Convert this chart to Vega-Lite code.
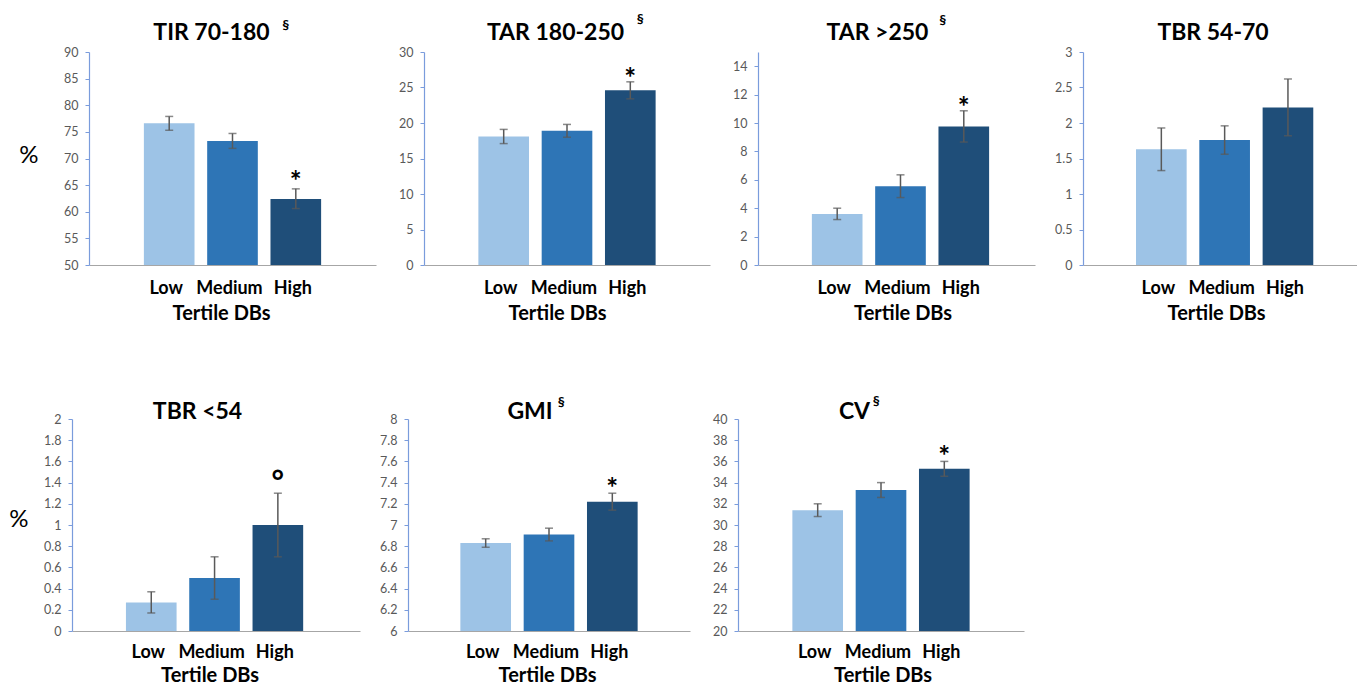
{
  "$schema": "https://vega.github.io/schema/vega-lite/v6.json",
  "background": "white",
  "padding": {"left": 8, "top": 13, "right": 0, "bottom": 0},
  "data": {"values": [
    {"p": "TIR", "t": "Low", "m": 76.6, "lo": 75.3, "hi": 77.9, "sig": "", "sup": ""},
    {"p": "TIR", "t": "Medium", "m": 73.3, "lo": 71.9, "hi": 74.7, "sig": "", "sup": ""},
    {"p": "TIR", "t": "High", "m": 62.4, "lo": 60.6, "hi": 64.3, "sig": "*", "sup": "§"},
    {"p": "TAR1", "t": "Low", "m": 18.1, "lo": 17.1, "hi": 19.1, "sig": "", "sup": ""},
    {"p": "TAR1", "t": "Medium", "m": 18.9, "lo": 18.0, "hi": 19.8, "sig": "", "sup": ""},
    {"p": "TAR1", "t": "High", "m": 24.6, "lo": 23.4, "hi": 25.8, "sig": "*", "sup": "§"},
    {"p": "TAR2", "t": "Low", "m": 3.6, "lo": 3.2, "hi": 4.0, "sig": "", "sup": ""},
    {"p": "TAR2", "t": "Medium", "m": 5.55, "lo": 4.75, "hi": 6.35, "sig": "", "sup": ""},
    {"p": "TAR2", "t": "High", "m": 9.76, "lo": 8.66, "hi": 10.86, "sig": "*", "sup": "§"},
    {"p": "TBR1", "t": "Low", "m": 1.63, "lo": 1.33, "hi": 1.93, "sig": "", "sup": ""},
    {"p": "TBR1", "t": "Medium", "m": 1.76, "lo": 1.56, "hi": 1.96, "sig": "", "sup": ""},
    {"p": "TBR1", "t": "High", "m": 2.22, "lo": 1.82, "hi": 2.62, "sig": "", "sup": ""},
    {"p": "TBR2", "t": "Low", "m": 0.27, "lo": 0.17, "hi": 0.37, "sig": "", "sup": ""},
    {"p": "TBR2", "t": "Medium", "m": 0.5, "lo": 0.3, "hi": 0.7, "sig": "", "sup": ""},
    {"p": "TBR2", "t": "High", "m": 1.0, "lo": 0.7, "hi": 1.3, "sig": "°", "sup": ""},
    {"p": "GMI", "t": "Low", "m": 6.83, "lo": 6.79, "hi": 6.87, "sig": "", "sup": ""},
    {"p": "GMI", "t": "Medium", "m": 6.91, "lo": 6.85, "hi": 6.97, "sig": "", "sup": ""},
    {"p": "GMI", "t": "High", "m": 7.22, "lo": 7.14, "hi": 7.30, "sig": "*", "sup": "§"},
    {"p": "CV", "t": "Low", "m": 31.4, "lo": 30.8, "hi": 32.0, "sig": "", "sup": ""},
    {"p": "CV", "t": "Medium", "m": 33.3, "lo": 32.6, "hi": 34.0, "sig": "", "sup": ""},
    {"p": "CV", "t": "High", "m": 35.3, "lo": 34.6, "hi": 36.0, "sig": "*", "sup": "§"}
  ]},
  "spacing": 72,
  "vconcat": [
    {
      "bounds": "flush",
      "spacing": 48,
      "hconcat": [
        {"width": 18, "height": 213, "data": {"values": []}, "mark": {"type": "point", "opacity": 0}, "encoding": {}},
        {
          "width": 287, "height": 213,
          "title": {"text": "TIR 70-180", "dx": -21, "offset": -26},
          "transform": [{"filter": "datum.p === 'TIR'"}],
          "encoding": {"x": {"field": "t", "type": "nominal", "sort": ["Low", "Medium", "High"],
            "scale": {"paddingInner": 0.2, "paddingOuter": 0.867},
            "axis": {"title": "Tertile DBs", "titleX": 132, "titleY": 54, "labelPadding": 28}}},
          "layer": [
            {"mark": {"type": "bar"}, "encoding": {
              "y": {"field": "m", "type": "quantitative", "scale": {"domain": [50, 90], "zero": false, "nice": false},
                "axis": {"values": [50, 55, 60, 65, 70, 75, 80, 85, 90], "tickCount": 50, "labelOverlap": false, "format": "~g", "title": "%", "titleAngle": 0, "titleAlign": "right", "titleBaseline": "middle", "titleX": -51, "titleY": 103, "titleFontSize": 24, "titleFontWeight": "normal", "titleColor": "#000000", "titleFont": "Lato"}},
              "y2": {"datum": 50},
              "color": {"field": "t", "type": "nominal", "scale": {"domain": ["Low", "Medium", "High"], "range": ["#9DC3E6", "#2E75B6", "#1F4E79"]}, "legend": null}}},
            {"mark": {"type": "rule", "color": "#595959", "strokeWidth": 1.5}, "encoding": {"y": {"field": "lo", "type": "quantitative"}, "y2": {"field": "hi"}}},
            {"mark": {"type": "tick", "color": "#595959", "size": 8, "thickness": 1.5}, "encoding": {"y": {"field": "lo", "type": "quantitative"}}},
            {"mark": {"type": "tick", "color": "#595959", "size": 8, "thickness": 1.5}, "encoding": {"y": {"field": "hi", "type": "quantitative"}}},
            {"transform": [{"filter": "datum.sig"}], "mark": {"type": "text", "fontSize": 28, "fontWeight": "bold", "baseline": "alphabetic", "dy": 2}, "encoding": {"y": {"field": "hi", "type": "quantitative"}, "text": {"field": "sig"}}},
            {"transform": [{"filter": "datum.sup"}], "mark": {"type": "text", "fontSize": 14, "fontWeight": "bold", "baseline": "middle", "dx": -10, "dy": -26}, "encoding": {"y": {"datum": 90, "type": "quantitative"}, "text": {"field": "sup"}}}
          ]
        },
        {
          "width": 286, "height": 213,
          "title": {"text": "TAR 180-250", "dx": -11.5, "offset": -32},
          "transform": [{"filter": "datum.p === 'TAR1'"}],
          "encoding": {"x": {"field": "t", "type": "nominal", "sort": ["Low", "Medium", "High"],
            "scale": {"paddingInner": 0.2, "paddingOuter": 0.859},
            "axis": {"title": "Tertile DBs", "titleX": 133, "titleY": 54, "labelPadding": 28}}},
          "layer": [
            {"mark": {"type": "bar"}, "encoding": {
              "y": {"field": "m", "type": "quantitative", "scale": {"domain": [0, 30], "zero": false, "nice": false},
                "axis": {"values": [0, 5, 10, 15, 20, 25, 30], "tickCount": 50, "labelOverlap": false, "format": "~g", "title": null}},
              "y2": {"datum": 0},
              "color": {"field": "t", "type": "nominal", "scale": {"domain": ["Low", "Medium", "High"], "range": ["#9DC3E6", "#2E75B6", "#1F4E79"]}, "legend": null}}},
            {"mark": {"type": "rule", "color": "#595959", "strokeWidth": 1.5}, "encoding": {"y": {"field": "lo", "type": "quantitative"}, "y2": {"field": "hi"}}},
            {"mark": {"type": "tick", "color": "#595959", "size": 8, "thickness": 1.5}, "encoding": {"y": {"field": "lo", "type": "quantitative"}}},
            {"mark": {"type": "tick", "color": "#595959", "size": 8, "thickness": 1.5}, "encoding": {"y": {"field": "hi", "type": "quantitative"}}},
            {"transform": [{"filter": "datum.sig"}], "mark": {"type": "text", "fontSize": 28, "fontWeight": "bold", "baseline": "alphabetic", "dy": 6}, "encoding": {"y": {"field": "hi", "type": "quantitative"}, "text": {"field": "sig"}}},
            {"transform": [{"filter": "datum.sup"}], "mark": {"type": "text", "fontSize": 14, "fontWeight": "bold", "baseline": "middle", "dx": 10, "dy": -32}, "encoding": {"y": {"datum": 30, "type": "quantitative"}, "text": {"field": "sup"}}}
          ]
        },
        {
          "width": 277, "height": 213,
          "title": {"text": "TAR >250", "dx": -19, "offset": -31},
          "transform": [{"filter": "datum.p === 'TAR2'"}],
          "encoding": {"x": {"field": "t", "type": "nominal", "sort": ["Low", "Medium", "High"],
            "scale": {"paddingInner": 0.2, "paddingOuter": 0.788, "align": 0.54},
            "axis": {"title": "Tertile DBs", "titleX": 144.5, "titleY": 54, "labelPadding": 28}}},
          "layer": [
            {"mark": {"type": "bar"}, "encoding": {
              "y": {"field": "m", "type": "quantitative", "scale": {"domain": [0, 15], "zero": false, "nice": false},
                "axis": {"values": [0, 2, 4, 6, 8, 10, 12, 14], "tickCount": 50, "labelOverlap": false, "format": "~g", "title": null}},
              "y2": {"datum": 0},
              "color": {"field": "t", "type": "nominal", "scale": {"domain": ["Low", "Medium", "High"], "range": ["#9DC3E6", "#2E75B6", "#1F4E79"]}, "legend": null}}},
            {"mark": {"type": "rule", "color": "#595959", "strokeWidth": 1.5}, "encoding": {"y": {"field": "lo", "type": "quantitative"}, "y2": {"field": "hi"}}},
            {"mark": {"type": "tick", "color": "#595959", "size": 8, "thickness": 1.5}, "encoding": {"y": {"field": "lo", "type": "quantitative"}}},
            {"mark": {"type": "tick", "color": "#595959", "size": 8, "thickness": 1.5}, "encoding": {"y": {"field": "hi", "type": "quantitative"}}},
            {"transform": [{"filter": "datum.sig"}], "mark": {"type": "text", "fontSize": 28, "fontWeight": "bold", "baseline": "alphabetic", "dy": 6}, "encoding": {"y": {"field": "hi", "type": "quantitative"}, "text": {"field": "sig"}}},
            {"transform": [{"filter": "datum.sup"}], "mark": {"type": "text", "fontSize": 14, "fontWeight": "bold", "baseline": "middle", "dx": -21, "dy": -31}, "encoding": {"y": {"datum": 15, "type": "quantitative"}, "text": {"field": "sup"}}}
          ]
        },
        {
          "width": 274, "height": 213,
          "title": {"text": "TBR 54-70", "dx": -7, "offset": 1},
          "transform": [{"filter": "datum.p === 'TBR1'"}],
          "encoding": {"x": {"field": "t", "type": "nominal", "sort": ["Low", "Medium", "High"],
            "scale": {"paddingInner": 0.2, "paddingOuter": 0.764, "align": 0.548},
            "axis": {"title": "Tertile DBs", "titleX": 133, "titleY": 54, "labelPadding": 28}}},
          "layer": [
            {"mark": {"type": "bar"}, "encoding": {
              "y": {"field": "m", "type": "quantitative", "scale": {"domain": [0, 3], "zero": false, "nice": false},
                "axis": {"values": [0, 0.5, 1, 1.5, 2, 2.5, 3], "tickCount": 50, "labelOverlap": false, "format": "~g", "title": null}},
              "y2": {"datum": 0},
              "color": {"field": "t", "type": "nominal", "scale": {"domain": ["Low", "Medium", "High"], "range": ["#9DC3E6", "#2E75B6", "#1F4E79"]}, "legend": null}}},
            {"mark": {"type": "rule", "color": "#595959", "strokeWidth": 1.5}, "encoding": {"y": {"field": "lo", "type": "quantitative"}, "y2": {"field": "hi"}}},
            {"mark": {"type": "tick", "color": "#595959", "size": 8, "thickness": 1.5}, "encoding": {"y": {"field": "lo", "type": "quantitative"}}},
            {"mark": {"type": "tick", "color": "#595959", "size": 8, "thickness": 1.5}, "encoding": {"y": {"field": "hi", "type": "quantitative"}}}
          ]
        }
      ]
    },
    {
      "bounds": "flush",
      "spacing": 48,
      "hconcat": [
        {"width": 1, "height": 212, "data": {"values": []}, "mark": {"type": "point", "opacity": 0}, "encoding": {}},
        {
          "width": 288, "height": 212,
          "title": {"text": "TBR <54", "dx": -18.5, "offset": -11},
          "transform": [{"filter": "datum.p === 'TBR2'"}],
          "encoding": {"x": {"field": "t", "type": "nominal", "sort": ["Low", "Medium", "High"],
            "scale": {"paddingInner": 0.2, "paddingOuter": 0.875, "align": 0.487},
            "axis": {"title": "Tertile DBs", "titleX": 137.5, "titleY": 50, "labelPadding": 26}}},
          "layer": [
            {"mark": {"type": "bar"}, "encoding": {
              "y": {"field": "m", "type": "quantitative", "scale": {"domain": [0, 2], "zero": false, "nice": false},
                "axis": {"values": [0, 0.2, 0.4, 0.6, 0.8, 1, 1.2, 1.4, 1.6, 1.8, 2], "tickCount": 50, "labelOverlap": false, "format": "~g", "title": "%", "titleAngle": 0, "titleAlign": "right", "titleBaseline": "middle", "titleX": -44, "titleY": 100.5, "titleFontSize": 24, "titleFontWeight": "normal", "titleColor": "#000000", "titleFont": "Lato"}},
              "y2": {"datum": 0},
              "color": {"field": "t", "type": "nominal", "scale": {"domain": ["Low", "Medium", "High"], "range": ["#9DC3E6", "#2E75B6", "#1F4E79"]}, "legend": null}}},
            {"mark": {"type": "rule", "color": "#595959", "strokeWidth": 1.5}, "encoding": {"y": {"field": "lo", "type": "quantitative"}, "y2": {"field": "hi"}}},
            {"mark": {"type": "tick", "color": "#595959", "size": 8, "thickness": 1.5}, "encoding": {"y": {"field": "lo", "type": "quantitative"}}},
            {"mark": {"type": "tick", "color": "#595959", "size": 8, "thickness": 1.5}, "encoding": {"y": {"field": "hi", "type": "quantitative"}}},
            {"transform": [{"filter": "datum.sig"}], "mark": {"type": "text", "fontSize": 30, "fontWeight": "bold", "baseline": "alphabetic", "dy": -1}, "encoding": {"y": {"field": "hi", "type": "quantitative"}, "text": {"field": "sig"}}}
          ]
        },
        {
          "width": 282, "height": 212,
          "title": {"text": "GMI", "dx": -19, "offset": -28},
          "transform": [{"filter": "datum.p === 'GMI'"}],
          "encoding": {"x": {"field": "t", "type": "nominal", "sort": ["Low", "Medium", "High"],
            "scale": {"paddingInner": 0.2, "paddingOuter": 0.827},
            "axis": {"title": "Tertile DBs", "titleX": 139, "titleY": 50, "labelPadding": 26}}},
          "layer": [
            {"mark": {"type": "bar"}, "encoding": {
              "y": {"field": "m", "type": "quantitative", "scale": {"domain": [6, 8], "zero": false, "nice": false},
                "axis": {"values": [6, 6.2, 6.4, 6.6, 6.8, 7, 7.2, 7.4, 7.6, 7.8, 8], "tickCount": 50, "labelOverlap": false, "format": "~g", "title": null}},
              "y2": {"datum": 6},
              "color": {"field": "t", "type": "nominal", "scale": {"domain": ["Low", "Medium", "High"], "range": ["#9DC3E6", "#2E75B6", "#1F4E79"]}, "legend": null}}},
            {"mark": {"type": "rule", "color": "#595959", "strokeWidth": 1.5}, "encoding": {"y": {"field": "lo", "type": "quantitative"}, "y2": {"field": "hi"}}},
            {"mark": {"type": "tick", "color": "#595959", "size": 8, "thickness": 1.5}, "encoding": {"y": {"field": "lo", "type": "quantitative"}}},
            {"mark": {"type": "tick", "color": "#595959", "size": 8, "thickness": 1.5}, "encoding": {"y": {"field": "hi", "type": "quantitative"}}},
            {"transform": [{"filter": "datum.sig"}], "mark": {"type": "text", "fontSize": 28, "fontWeight": "bold", "baseline": "alphabetic", "dy": 5}, "encoding": {"y": {"field": "hi", "type": "quantitative"}, "text": {"field": "sig"}}},
            {"transform": [{"filter": "datum.sup"}], "mark": {"type": "text", "fontSize": 14, "fontWeight": "bold", "baseline": "middle", "dx": -51, "dy": -16}, "encoding": {"y": {"datum": 8, "type": "quantitative"}, "text": {"field": "sup"}}}
          ]
        },
        {
          "width": 286, "height": 212,
          "title": {"text": "CV", "dx": -26.5, "offset": -29},
          "transform": [{"filter": "datum.p === 'CV'"}],
          "encoding": {"x": {"field": "t", "type": "nominal", "sort": ["Low", "Medium", "High"],
            "scale": {"paddingInner": 0.2, "paddingOuter": 0.859},
            "axis": {"title": "Tertile DBs", "titleX": 144.5, "titleY": 50, "labelPadding": 26}}},
          "layer": [
            {"mark": {"type": "bar"}, "encoding": {
              "y": {"field": "m", "type": "quantitative", "scale": {"domain": [20, 40], "zero": false, "nice": false},
                "axis": {"values": [20, 22, 24, 26, 28, 30, 32, 34, 36, 38, 40], "tickCount": 50, "labelOverlap": false, "format": "~g", "title": null}},
              "y2": {"datum": 20},
              "color": {"field": "t", "type": "nominal", "scale": {"domain": ["Low", "Medium", "High"], "range": ["#9DC3E6", "#2E75B6", "#1F4E79"]}, "legend": null}}},
            {"mark": {"type": "rule", "color": "#595959", "strokeWidth": 1.5}, "encoding": {"y": {"field": "lo", "type": "quantitative"}, "y2": {"field": "hi"}}},
            {"mark": {"type": "tick", "color": "#595959", "size": 8, "thickness": 1.5}, "encoding": {"y": {"field": "lo", "type": "quantitative"}}},
            {"mark": {"type": "tick", "color": "#595959", "size": 8, "thickness": 1.5}, "encoding": {"y": {"field": "hi", "type": "quantitative"}}},
            {"transform": [{"filter": "datum.sig"}], "mark": {"type": "text", "fontSize": 28, "fontWeight": "bold", "baseline": "alphabetic", "dy": 5}, "encoding": {"y": {"field": "hi", "type": "quantitative"}, "text": {"field": "sig"}}},
            {"transform": [{"filter": "datum.sup"}], "mark": {"type": "text", "fontSize": 14, "fontWeight": "bold", "baseline": "middle", "dx": -68, "dy": -17}, "encoding": {"y": {"datum": 40, "type": "quantitative"}, "text": {"field": "sup"}}}
          ]
        }
      ]
    }
  ],
  "config": {
    "font": "Lato",
    "view": {"stroke": null},
    "title": {"font": "Lato", "fontSize": 23, "fontWeight": "bold", "color": "#000000", "anchor": "middle", "baseline": "alphabetic", "frame": "group"},
    "axisX": {"domainColor": "#A6A6A6", "domainWidth": 1.2, "ticks": false, "grid": false, "labelAngle": 0, "labelOffset": -3, "labelFont": "Lato", "labelFontSize": 18, "labelFontWeight": "bold", "labelColor": "#000000", "labelBaseline": "alphabetic", "titleFont": "Lato", "titleFontSize": 20, "titleFontWeight": "bold", "titleColor": "#000000", "titleBaseline": "alphabetic", "titleAlign": "center"},
    "axisY": {"domainColor": "#7A9CDC", "domainWidth": 1.2, "tickColor": "#7A9CDC", "tickSize": 4, "grid": false, "labelOverlap": false, "labelFont": "Lato", "labelFontSize": 12.5, "labelColor": "#595959", "labelPadding": 7},
    "text": {"font": "Lato", "color": "#000000"}
  }
}
